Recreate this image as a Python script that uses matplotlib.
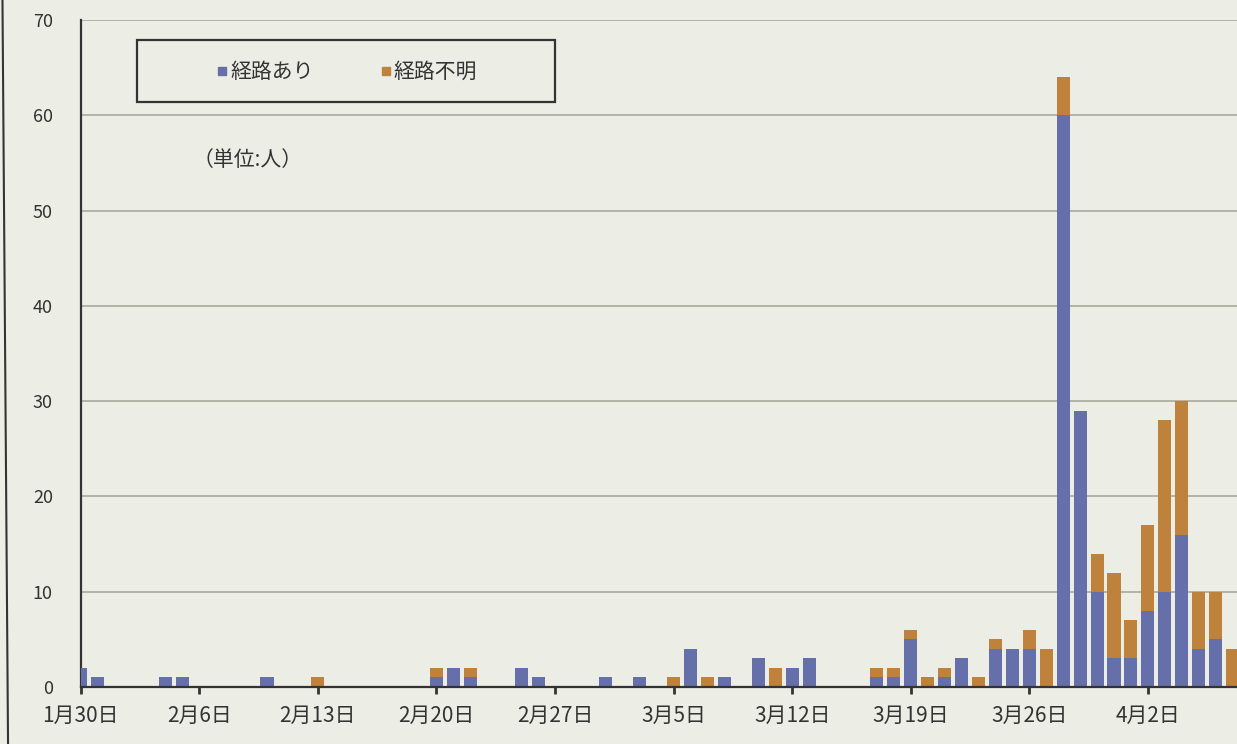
import pandas as pd
import matplotlib.pyplot as plt
from matplotlib.lines import Line2D
from matplotlib.patches import Rectangle

plt.rcParams['font.family'] = ['Noto Sans CJK JP', 'DejaVu Sans']

# daily cases (days with no cases are left out)
dates = ["2020-01-30", "2020-01-31", "2020-02-04", "2020-02-05", "2020-02-10",
         "2020-02-13", "2020-02-20", "2020-02-21", "2020-02-22", "2020-02-25",
         "2020-02-26", "2020-03-01", "2020-03-03", "2020-03-05", "2020-03-06",
         "2020-03-07", "2020-03-08", "2020-03-10", "2020-03-11", "2020-03-12",
         "2020-03-13", "2020-03-17", "2020-03-18", "2020-03-19", "2020-03-20",
         "2020-03-21", "2020-03-22", "2020-03-23", "2020-03-24", "2020-03-25",
         "2020-03-26", "2020-03-27", "2020-03-28", "2020-03-29", "2020-03-30",
         "2020-03-31", "2020-04-01", "2020-04-02", "2020-04-03", "2020-04-04",
         "2020-04-05", "2020-04-06", "2020-04-07"]
known = [2, 1, 1, 1, 1,
         0, 1, 2, 1, 2,
         1, 1, 1, 0, 4,
         0, 1, 3, 0, 2,
         3, 1, 1, 5, 0,
         1, 3, 0, 4, 4,
         4, 0, 60, 29, 10,
         3, 3, 8, 10, 16,
         4, 5, 0]
unknown = [0, 0, 0, 0, 0,
           1, 1, 0, 1, 0,
           0, 0, 0, 1, 0,
           1, 0, 0, 2, 0,
           0, 1, 1, 1, 1,
           1, 0, 1, 1, 0,
           2, 4, 4, 0, 4,
           9, 4, 9, 18, 14,
           6, 5, 4]
tick_dates = ["2020-01-30", "2020-02-06", "2020-02-13", "2020-02-20", "2020-02-27",
              "2020-03-05", "2020-03-12", "2020-03-19", "2020-03-26", "2020-04-02"]
yticks = [0, 10, 20, 30, 40, 50, 60, 70]

paper = "#ecede5"
blue = "#6570ab"
orange = "#bf823c"

x = pd.to_datetime(dates)
ticks = pd.to_datetime(tick_dates)

fig = plt.figure(figsize=(12.37, 7.44), dpi=100, facecolor=paper)
ax = fig.add_axes([0.0652, 0.0766, 0.9348, 0.8965])
ax.set_facecolor(paper)

ax.bar(x, known, width=0.77, color=blue, zorder=3)
ax.bar(x, unknown, width=0.77, bottom=known, color=orange, zorder=3)

start = ticks[0]
ax.set_xlim(start, start + pd.Timedelta(days=68.26))
ax.set_ylim(0, 70)

ax.set_xticks(ticks)
ax.set_xticklabels([f"{d.month}月{d.day}日" for d in ticks], fontsize=15, color="#333333")
ax.set_yticks(yticks)
ax.set_yticklabels([str(v) for v in yticks], fontsize=13, color="#333333")
ax.tick_params(axis="x", direction="out", length=5, width=2, color="#333333", pad=8)
ax.tick_params(axis="y", length=0, pad=20)

ax.grid(axis="y", color="#a9a99c", linewidth=1.2, zorder=0)
ax.set_axisbelow(True)
for side in ["top", "right"]:
    ax.spines[side].set_visible(False)
for side in ["left", "bottom"]:
    ax.spines[side].set_color("#333333")
    ax.spines[side].set_linewidth(1.6)
ax.spines["bottom"].set_zorder(4)

# legend box
fig.patches.append(Rectangle((0.1108, 0.8629), 0.3379, 0.0833, transform=fig.transFigure,
                             fill=False, edgecolor="#333333", linewidth=1.6))
handles = [Line2D([], [], marker="s", linestyle="none", markersize=6, color=blue),
           Line2D([], [], marker="s", linestyle="none", markersize=6, color=orange)]
fig.legend(handles, ["経路あり", "経路不明"], loc="center", bbox_to_anchor=(0.2805, 0.9035),
           ncol=2, frameon=False, fontsize=15, handlelength=0.5, handletextpad=0.15,
           columnspacing=3.2, labelcolor="#333333")

fig.text(0.156, 0.785, "（単位:人）", fontsize=15, color="#333333", va="center")

# border of the newspaper box at the far left
fig.add_artist(Line2D([0.002, 0.0065], [1, 0], transform=fig.transFigure,
                      color="#333333", linewidth=1.5))

plt.savefig("out.png", dpi=100, facecolor=paper)
